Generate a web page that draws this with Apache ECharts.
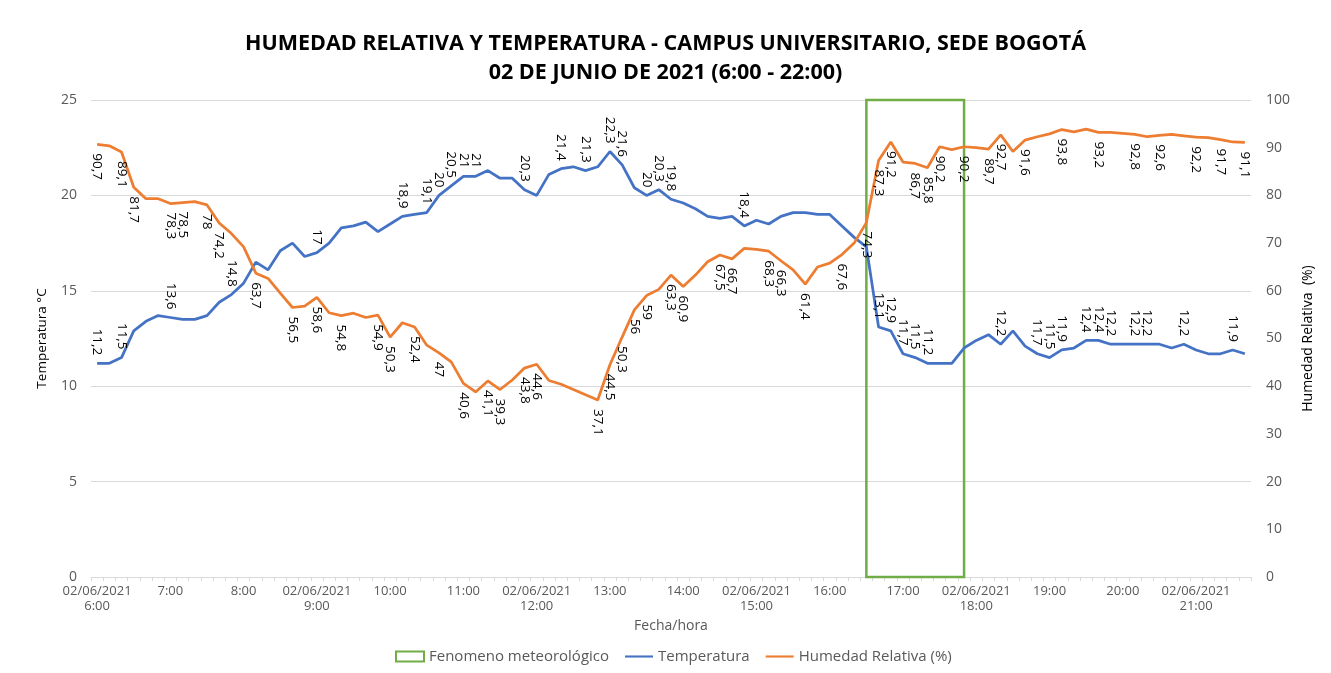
<!DOCTYPE html>
<html>
<head>
<meta charset="utf-8">
<title>Humedad relativa y temperatura - Campus Bogotá</title>
<script src="https://cdn.jsdelivr.net/npm/echarts@6/dist/echarts.min.js"></script>
<style>
  html, body { margin: 0; padding: 0; background: #fff; }
  #chart { width: 1331px; height: 673px; }
</style>
</head>
<body>
<div id="chart"></div>
<script>
// categorias: cada 10 minutos, 6:00 - 21:40
const horas = [
  '6:00', '6:10', '6:20', '6:30', '6:40', '6:50',
  '7:00', '7:10', '7:20', '7:30', '7:40', '7:50',
  '8:00', '8:10', '8:20', '8:30', '8:40', '8:50',
  '9:00', '9:10', '9:20', '9:30', '9:40', '9:50',
  '10:00', '10:10', '10:20', '10:30', '10:40', '10:50',
  '11:00', '11:10', '11:20', '11:30', '11:40', '11:50',
  '12:00', '12:10', '12:20', '12:30', '12:40', '12:50',
  '13:00', '13:10', '13:20', '13:30', '13:40', '13:50',
  '14:00', '14:10', '14:20', '14:30', '14:40', '14:50',
  '15:00', '15:10', '15:20', '15:30', '15:40', '15:50',
  '16:00', '16:10', '16:20', '16:30', '16:40', '16:50',
  '17:00', '17:10', '17:20', '17:30', '17:40', '17:50',
  '18:00', '18:10', '18:20', '18:30', '18:40', '18:50',
  '19:00', '19:10', '19:20', '19:30', '19:40', '19:50',
  '20:00', '20:10', '20:20', '20:30', '20:40', '20:50',
  '21:00', '21:10', '21:20', '21:30', '21:40',
];

const temperatura = [
  11.2, 11.2, 11.5, 12.9, 13.4, 13.7,
  13.6, 13.5, 13.5, 13.7, 14.4, 14.8,
  15.4, 16.5, 16.1, 17.1, 17.5, 16.8,
  17, 17.5, 18.3, 18.4, 18.6, 18.1,
  18.5, 18.9, 19, 19.1, 20, 20.5,
  21, 21, 21.3, 20.9, 20.9, 20.3,
  20, 21.1, 21.4, 21.5, 21.3, 21.5,
  22.3, 21.6, 20.4, 20, 20.3, 19.8,
  19.6, 19.3, 18.9, 18.8, 18.9, 18.4,
  18.7, 18.5, 18.9, 19.1, 19.1, 19,
  19, 18.4, 17.8, 17.3, 13.1, 12.9,
  11.7, 11.5, 11.2, 11.2, 11.2, 12,
  12.4, 12.7, 12.2, 12.9, 12.1, 11.7,
  11.5, 11.9, 12, 12.4, 12.4, 12.2,
  12.2, 12.2, 12.2, 12.2, 12, 12.2,
  11.9, 11.7, 11.7, 11.9, 11.7,
];

const humedad = [
  90.7, 90.4, 89.1, 81.7, 79.3, 79.3,
  78.3, 78.5, 78.7, 78, 74.2, 72,
  69.2, 63.7, 62.6, 59.5, 56.5, 56.8,
  58.6, 55.4, 54.8, 55.3, 54.4, 54.9,
  50.3, 53.3, 52.4, 48.6, 47, 45.1,
  40.6, 38.8, 41.1, 39.3, 41.3, 43.8,
  44.6, 41.2, 40.4, 39.3, 38.2, 37.1,
  44.5, 50.3, 56, 59, 60.3, 63.3,
  60.9, 63.3, 66.1, 67.5, 66.7, 68.9,
  68.7, 68.3, 66.3, 64.4, 61.4, 65,
  65.8, 67.6, 70, 74.3, 87.3, 91.2,
  87, 86.7, 85.8, 90.2, 89.6, 90.2,
  90, 89.7, 92.7, 89.2, 91.6, 92.3,
  92.9, 93.8, 93.3, 93.9, 93.2, 93.2,
  93, 92.8, 92.3, 92.6, 92.8, 92.5,
  92.2, 92.1, 91.7, 91.2, 91.1,
];

// puntos con etiqueta de datos (indices)
const etiquetasTemp = [0, 2, 6, 11, 18, 25, 27, 28, 29, 30, 31, 35, 38, 40, 42, 43, 45, 46, 47, 53,
  64, 65, 66, 67, 68, 74, 77, 78, 79, 81, 82, 83, 85, 86, 89, 93];
const etiquetasHum = [0, 2, 3, 6, 7, 9, 10, 13, 16, 18, 20, 23, 24, 26, 28, 30, 32, 33, 35, 36,
  41, 42, 43, 44, 45, 47, 48, 51, 52, 55, 56, 58, 61, 63, 64, 65, 67, 68, 69, 71,
  73, 74, 76, 79, 82, 85, 87, 90, 92, 94];

const fenomeno = ['16:30', '17:50'];
const fecha = '02/06/2021';
const horasConFecha = ['6:00', '9:00', '12:00', '15:00', '18:00', '21:00'];

const azul = '#4472C4';
const naranja = '#ED7D31';
const verde = '#70AD47';
const fuente = 'Open Sans';

function coma(v) {
  return String(v).replace('.', ',');
}

const chart = echarts.init(document.getElementById('chart'), null, { renderer: 'canvas' });

const option = {
  animation: false,
  backgroundColor: '#fff',
  textStyle: { fontFamily: fuente },
  title: {
    text: 'HUMEDAD RELATIVA Y TEMPERATURA - CAMPUS UNIVERSITARIO, SEDE BOGOTÁ\n02 DE JUNIO DE 2021 (6:00 - 22:00)',
    left: 'center',
    top: 24,
    textStyle: {
      fontFamily: fuente,
      fontSize: 21.5,
      fontWeight: 'bold',
      color: '#000',
      lineHeight: 29,
    },
  },
  legend: {
    left: 390,
    top: 644,
    itemWidth: 28,
    itemHeight: 10,
    itemGap: 16,
    textStyle: { fontFamily: fuente, fontSize: 15, color: '#595959' },
    data: [
      {
        name: 'Fenomeno meteorológico',
        icon: 'rect',
        itemStyle: { color: '#fff', borderColor: verde, borderWidth: 2 },
      },
      { name: 'Temperatura', icon: 'path://M0,0H40V3H0Z', itemStyle: { color: azul } },
      { name: 'Humedad Relativa (%)', icon: 'path://M0,0H40V3H0Z', itemStyle: { color: naranja } },
    ],
  },
  grid: {
    left: 91,
    right: 80,
    top: 100,
    bottom: 96,
  },
  xAxis: {
    type: 'category',
    boundaryGap: true,
    data: horas,
    name: 'Fecha/hora',
    nameLocation: 'middle',
    nameGap: 33,
    nameTextStyle: { fontFamily: fuente, fontSize: 14, color: '#595959' },
    axisLine: { lineStyle: { color: '#d9d9d9' } },
    axisTick: { show: true, interval: 0, length: 4, lineStyle: { color: '#d9d9d9' } },
    axisLabel: {
      interval: 5,
      margin: 7,
      fontSize: 13,
      lineHeight: 15,
      color: '#595959',
      formatter: (v) => (horasConFecha.includes(v) ? fecha + '\n' + v : v),
    },
  },
  yAxis: [
    {
      type: 'value',
      min: 0,
      max: 25,
      interval: 5,
      name: 'Temperatura °C',
      nameLocation: 'middle',
      nameRotate: 90,
      nameGap: 42,
      nameTextStyle: { fontFamily: fuente, fontSize: 13.5, color: '#000' },
      axisLine: { show: false },
      axisTick: { show: false },
      axisLabel: { fontSize: 14, color: '#595959', margin: 14 },
      splitLine: { lineStyle: { color: '#d9d9d9' } },
    },
    {
      type: 'value',
      min: 0,
      max: 100,
      interval: 10,
      name: 'Humedad Relativa  (%)',
      nameLocation: 'middle',
      nameRotate: 90,
      nameGap: 50,
      nameTextStyle: { fontFamily: fuente, fontSize: 14, color: '#000' },
      axisLine: { show: false },
      axisTick: { show: false },
      axisLabel: { fontSize: 14, color: '#595959', margin: 15 },
      splitLine: { show: false },
    },
  ],
  series: [
    {
      name: 'Fenomeno meteorológico',
      type: 'line',
      yAxisIndex: 1,
      data: [],
      itemStyle: { color: verde },
      markArea: {
        silent: true,
        itemStyle: { color: 'rgba(0,0,0,0)', borderColor: verde, borderWidth: 2.5 },
        data: [[{ xAxis: fenomeno[0], yAxis: 0 }, { xAxis: fenomeno[1], yAxis: 100 }]],
      },
    },
    {
      name: 'Temperatura',
      type: 'line',
      yAxisIndex: 0,
      data: temperatura,
      symbol: 'circle',
      symbolSize: 0,
      itemStyle: { color: azul },
      lineStyle: { color: azul, width: 2.75 },
      label: {
        show: true,
        position: 'top',
        distance: 8,
        rotate: -90,
        align: 'right',
        verticalAlign: 'middle',
        fontFamily: fuente,
        fontSize: 13.5,
        color: '#000',
        formatter: (p) => (etiquetasTemp.includes(p.dataIndex) ? coma(p.value) : ''),
      },
    },
    {
      name: 'Humedad Relativa (%)',
      type: 'line',
      yAxisIndex: 1,
      data: humedad,
      symbol: 'circle',
      symbolSize: 0,
      itemStyle: { color: naranja },
      lineStyle: { color: naranja, width: 2.75 },
      label: {
        show: true,
        position: 'bottom',
        distance: 9,
        rotate: -90,
        align: 'left',
        verticalAlign: 'middle',
        fontFamily: fuente,
        fontSize: 13.5,
        color: '#000',
        formatter: (p) => (etiquetasHum.includes(p.dataIndex) ? coma(p.value) : ''),
      },
    },
  ],
};

chart.setOption(option);
</script>
</body>
</html>
